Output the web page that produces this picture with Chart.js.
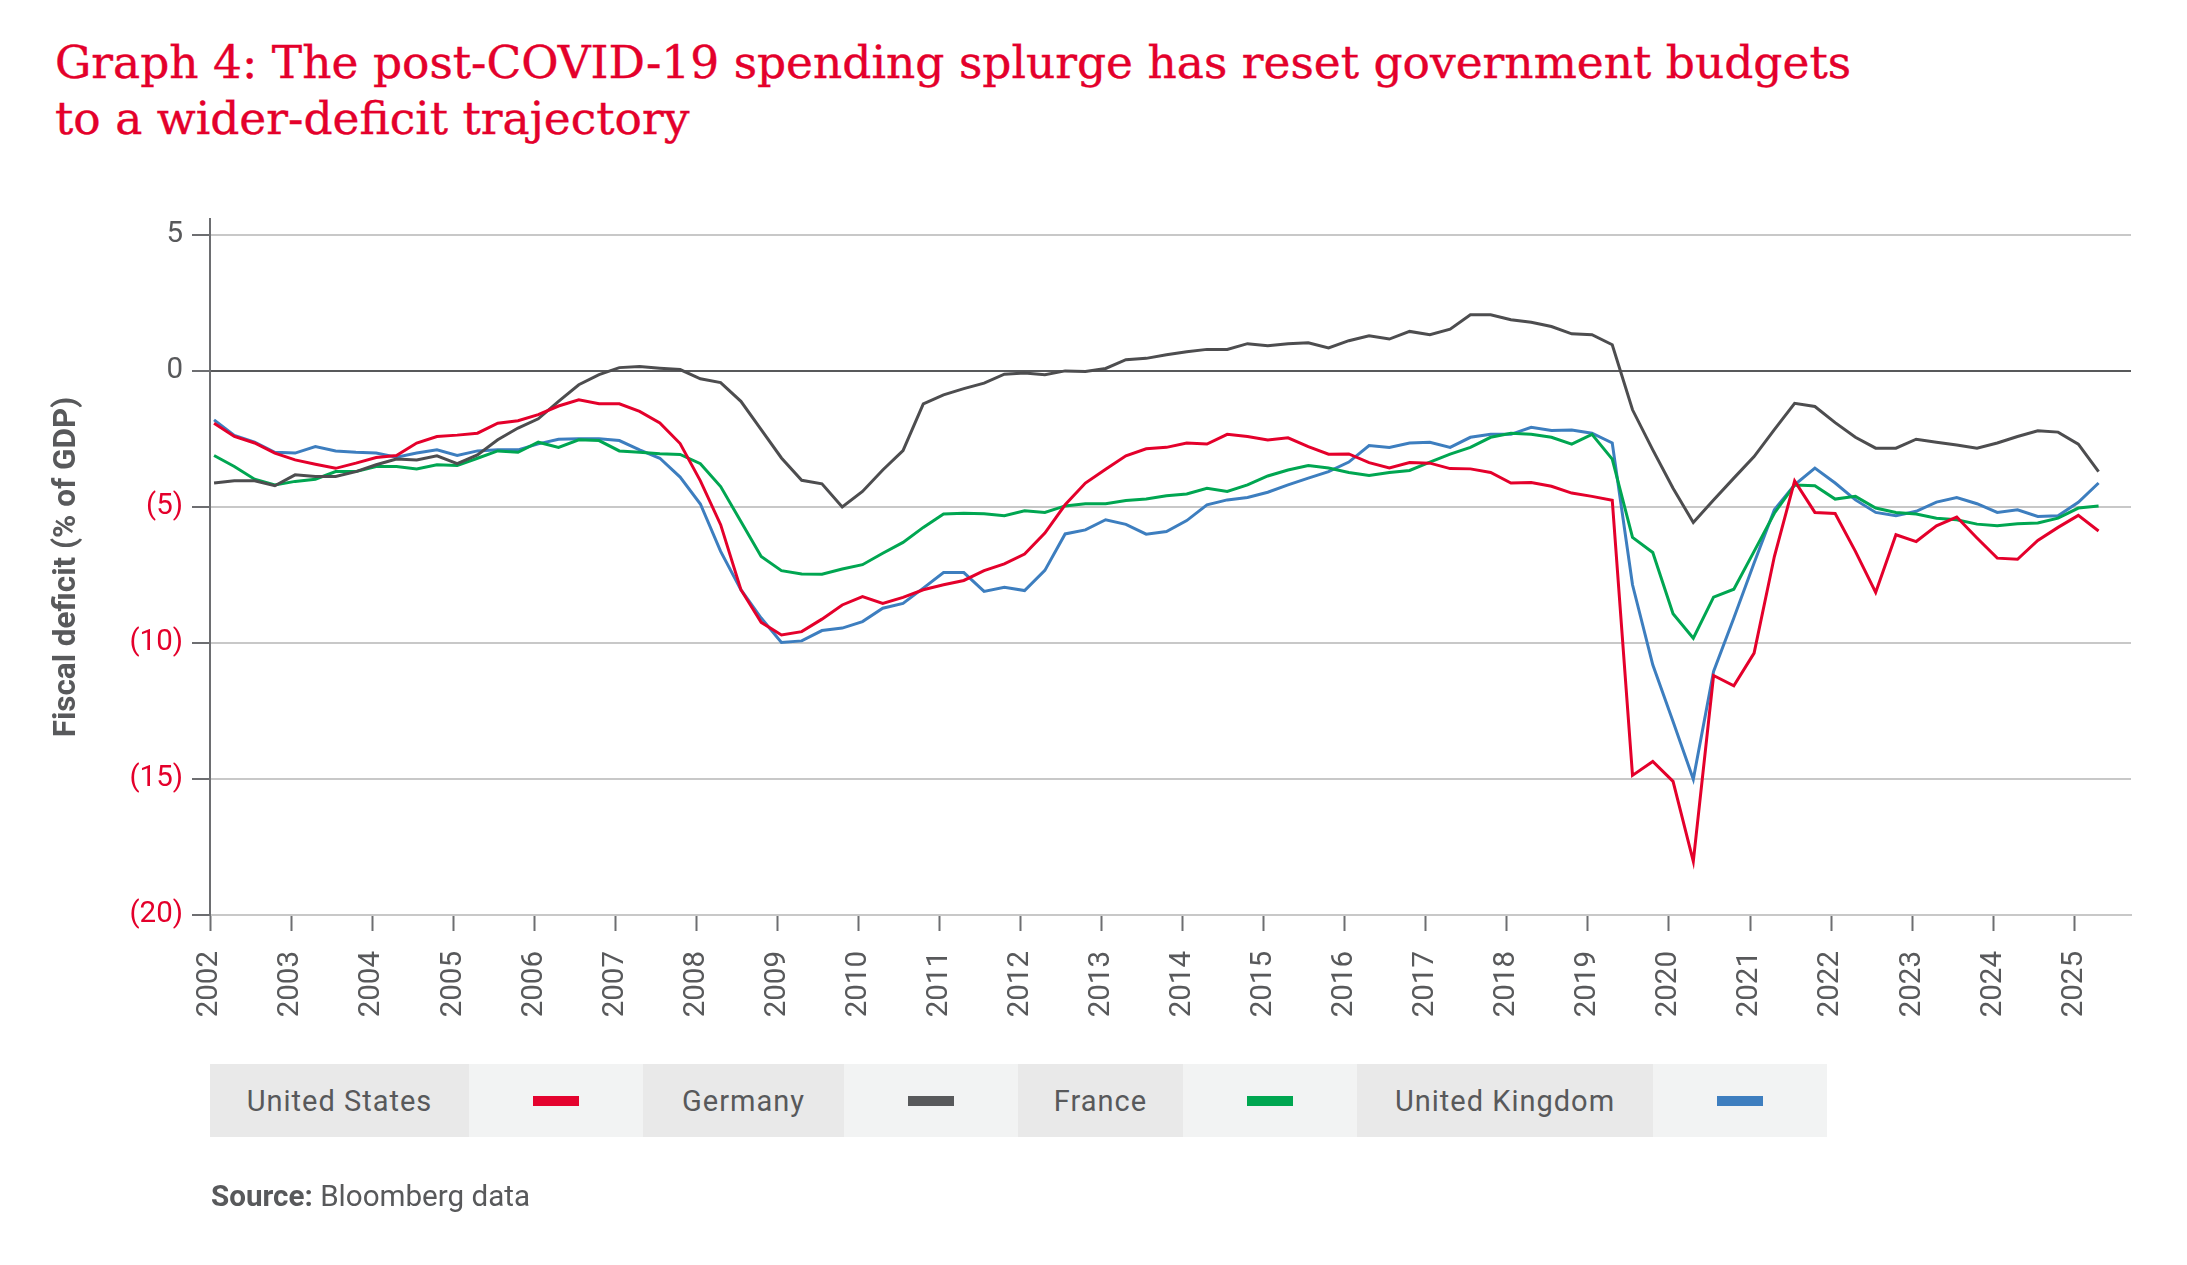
<!DOCTYPE html>
<html>
<head>
<meta charset="utf-8">
<script src="https://cdn.jsdelivr.net/npm/chart.js@4.4.1/dist/chart.umd.min.js"></script>
<style>
  html, body { margin: 0; padding: 0; background: #ffffff; }
  body { width: 2187px; height: 1265px; position: relative; overflow: hidden; font-family: Roboto, sans-serif; }
  #title { position: absolute; left: 55px; top: 35px; color: #E4002B; font-family: "DejaVu Serif", serif; font-size: 45.5px; line-height: 56px; white-space: nowrap; -webkit-text-stroke: 0.4px #E4002B; }
  #chart { position: absolute; left: 0; top: 0; }
  #legend { position: absolute; left: 210px; top: 1064px; height: 73px; display: flex; }
  .lab { height: 73px; background: #E9E9E9; color: #58595B; font-size: 29px; letter-spacing: 1px; display: flex; align-items: center; justify-content: center; }
  .sw { height: 73px; background: #F2F3F3; display: flex; align-items: center; justify-content: center; }
  .sw span { display: block; width: 46px; height: 10px; }
  #source { position: absolute; left: 211px; top: 1179px; font-size: 29.6px; color: #58595B; }
</style>
</head>
<body>
<div id="title">Graph 4: The post-COVID-19 spending splurge has reset government budgets<br>to a wider-deficit trajectory</div>
<canvas id="chart" width="2187" height="1265"></canvas>
<div id="legend"></div>
<div id="source"><b>Source:</b> Bloomberg data</div>
<script>
// ---- data (quarterly, starting 2002 Q1) ----
const startYear = 2002;
const quarterOffset = 0.05;   // points sit just after the year tick
const seriesNames = ['United States', 'Germany', 'France', 'United Kingdom'];

const usDeficit = [
  -1.93, -2.42, -2.66, -3.03, -3.28, -3.44, -3.59, -3.40, -3.19, -3.12,
  -2.66, -2.42, -2.37, -2.30, -1.93, -1.84, -1.62, -1.30, -1.07, -1.22,
  -1.22, -1.50, -1.92, -2.68, -4.05, -5.66, -8.05, -9.25, -9.71, -9.59,
  -9.13, -8.61, -8.30, -8.55, -8.33, -8.05, -7.87, -7.71, -7.35, -7.10,
  -6.74, -5.97, -4.93, -4.13, -3.62, -3.13, -2.87, -2.82, -2.66, -2.70,
  -2.34, -2.42, -2.55, -2.47, -2.79, -3.07, -3.06, -3.38, -3.58, -3.38,
  -3.40, -3.60, -3.61, -3.74, -4.13, -4.11, -4.25, -4.50, -4.62, -4.76,
  -14.87, -14.36, -15.09, -18.03, -11.20, -11.58, -10.38, -6.83, -4.05, -5.21,
  -5.25, -6.64, -8.15, -6.03, -6.28, -5.70, -5.38, -6.15, -6.89, -6.93,
  -6.24, -5.76, -5.32, -5.89
];
const germanyDeficit = [
  -4.13, -4.05, -4.05, -4.23, -3.83, -3.89, -3.89, -3.71, -3.46, -3.25,
  -3.28, -3.13, -3.42, -3.10, -2.54, -2.11, -1.77, -1.13, -0.52, -0.15,
  0.11, 0.15, 0.09, 0.04, -0.30, -0.44, -1.13, -2.17, -3.21, -4.03,
  -4.16, -5.01, -4.44, -3.65, -2.94, -1.22, -0.89, -0.66, -0.46, -0.13,
  -0.09, -0.15, -0.01, -0.03, 0.08, 0.40, 0.45, 0.58, 0.69, 0.78,
  0.78, 0.99, 0.91, 0.99, 1.02, 0.83, 1.10, 1.28, 1.16, 1.44,
  1.32, 1.52, 2.05, 2.05, 1.87, 1.78, 1.62, 1.35, 1.32, 0.95,
  -1.44, -2.91, -4.32, -5.58, -4.75, -3.95, -3.16, -2.17, -1.20, -1.32,
  -1.91, -2.45, -2.85, -2.85, -2.52, -2.63, -2.73, -2.85, -2.66, -2.42,
  -2.21, -2.26, -2.70, -3.71
];
const franceDeficit = [
  -3.12, -3.52, -3.99, -4.20, -4.07, -3.99, -3.71, -3.71, -3.52, -3.52,
  -3.61, -3.46, -3.49, -3.22, -2.95, -3.00, -2.63, -2.82, -2.54, -2.57,
  -2.95, -3.00, -3.05, -3.08, -3.42, -4.26, -5.54, -6.83, -7.35, -7.47,
  -7.48, -7.29, -7.13, -6.71, -6.31, -5.76, -5.27, -5.24, -5.26, -5.33,
  -5.15, -5.21, -4.97, -4.89, -4.89, -4.77, -4.72, -4.60, -4.53, -4.32,
  -4.44, -4.20, -3.87, -3.65, -3.49, -3.58, -3.74, -3.85, -3.74, -3.67,
  -3.36, -3.07, -2.82, -2.45, -2.30, -2.34, -2.45, -2.70, -2.34, -3.25,
  -6.13, -6.68, -8.93, -9.83, -8.32, -8.03, -6.64, -5.24, -4.20, -4.23,
  -4.72, -4.62, -5.05, -5.21, -5.27, -5.42, -5.48, -5.64, -5.70, -5.63,
  -5.60, -5.42, -5.05, -4.97
];
const ukDeficit = [
  -1.81, -2.38, -2.63, -3.00, -3.03, -2.79, -2.95, -3.00, -3.03, -3.18,
  -3.03, -2.91, -3.12, -2.95, -2.91, -2.91, -2.69, -2.52, -2.50, -2.50,
  -2.57, -2.91, -3.22, -3.91, -4.90, -6.64, -8.05, -9.09, -9.99, -9.93,
  -9.55, -9.46, -9.22, -8.73, -8.55, -7.99, -7.42, -7.42, -8.11, -7.96,
  -8.08, -7.34, -6.00, -5.85, -5.48, -5.65, -6.01, -5.91, -5.51, -4.93,
  -4.75, -4.66, -4.47, -4.20, -3.95, -3.71, -3.36, -2.75, -2.82, -2.66,
  -2.63, -2.82, -2.45, -2.34, -2.34, -2.08, -2.20, -2.18, -2.30, -2.66,
  -7.87, -10.81, -12.89, -15.01, -11.05, -9.09, -7.07, -5.11, -4.20, -3.58,
  -4.13, -4.75, -5.21, -5.33, -5.17, -4.83, -4.66, -4.89, -5.21, -5.11,
  -5.36, -5.33, -4.84, -4.13
];
const yearTicks = [2002, 2003, 2004, 2005, 2006, 2007, 2008, 2009, 2010, 2011, 2012, 2013,
                   2014, 2015, 2016, 2017, 2018, 2019, 2020, 2021, 2022, 2023, 2024, 2025];
const yTickValues = [5, 0, -5, -10, -15, -20];

// ---- styling ----
const seriesColors = ['#E4002B', '#4D4D4F', '#00A651', '#3D7EBF'];
const swatchColors = ['#E4032E', '#58595B', '#00A650', '#3E7EBF'];
const labelCellWidths = [259, 201, 165, 296];
const swatchCellWidth = 174;

const seriesValues = [usDeficit, germanyDeficit, franceDeficit, ukDeficit];
const toPoints = vals => vals.map((v, i) => ({ x: startYear + quarterOffset + i / 4, y: v }));

// legend (HTML)
const legend = document.getElementById('legend');
seriesNames.forEach((name, k) => {
  const lab = document.createElement('div');
  lab.className = 'lab';
  lab.style.width = labelCellWidths[k] + 'px';
  lab.textContent = name;
  const sw = document.createElement('div');
  sw.className = 'sw';
  sw.style.width = swatchCellWidth + 'px';
  const mark = document.createElement('span');
  mark.style.background = swatchColors[k];
  sw.appendChild(mark);
  legend.appendChild(lab);
  legend.appendChild(sw);
});

const axisDark = '#6D6E71';
const textGrey = '#58595B';
const red = '#E4002B';

new Chart(document.getElementById('chart'), {
  type: 'line',
  data: {
    datasets: seriesNames.map((name, k) => ({
      label: name,
      data: toPoints(seriesValues[k]),
      borderColor: seriesColors[k],
      backgroundColor: seriesColors[k],
      borderWidth: 3,
      pointRadius: 0,
      tension: 0,
      fill: false
    }))
  },
  options: {
    responsive: false,
    animation: false,
    devicePixelRatio: 1,
    layout: { padding: { top: 219, right: 56, bottom: 240, left: 0 } },
    plugins: { legend: { display: false }, tooltip: { enabled: false } },
    scales: {
      x: {
        type: 'linear',
        min: 2002,
        max: 2025.7,
        afterBuildTicks: a => { a.ticks = yearTicks.map(v => ({ value: v })); },
        afterFit: s => { s.height = 110; },
        grid: { drawOnChartArea: false, drawTicks: true, tickLength: 16, tickColor: axisDark, tickWidth: 2 },
        border: { display: true, color: '#C8C8C8', width: 2 },
        ticks: {
          autoSkip: false, maxRotation: 90, minRotation: 90, padding: 20,
          color: textGrey, font: { family: 'Roboto', size: 29.5 },
          callback: v => String(v)
        }
      },
      y: {
        type: 'linear',
        min: -20,
        max: 5.57,
        afterBuildTicks: a => { a.ticks = yTickValues.map(v => ({ value: v })); },
        afterFit: s => { s.width = 210; },
        grid: {
          color: c => (c.tick && c.tick.value === 0) ? '#58595B' : '#C8C8C8',
          lineWidth: 2, tickLength: 18, tickColor: axisDark, tickWidth: 2
        },
        border: { display: true, color: axisDark, width: 2 },
        ticks: {
          padding: 9,
          color: c => (c.tick && c.tick.value < 0) ? red : textGrey,
          font: { family: 'Roboto', size: 29.5 },
          callback: v => v < 0 ? '(' + (-v) + ')' : String(v)
        },
        title: {
          display: true, text: 'Fiscal deficit (% of GDP)', color: textGrey,
          font: { family: 'Roboto', size: 31.5, weight: 'bold' },
          padding: { top: 48, bottom: 0 }
        }
      }
    }
  }
});
</script>
</body>
</html>
